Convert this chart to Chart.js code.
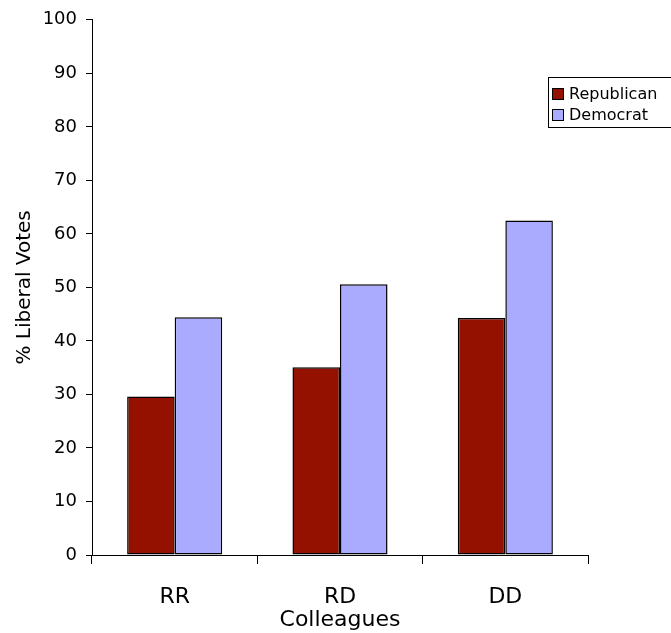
<!DOCTYPE html>
<html>
<head>
<meta charset="utf-8">
<script src="https://cdn.jsdelivr.net/npm/chart.js@4/dist/chart.umd.min.js"></script>
<style>
  body { margin: 0; background: #fff; overflow: hidden; }
</style>
</head>
<body>
<canvas id="myBarChart" width="671" height="633"></canvas>
<script>
var labels = ['RR', 'RD', 'DD'];
var republican = [29.6, 35.1, 44.3];
var democrat = [44.4, 50.6, 62.5];
var yTicks = [0, 10, 20, 30, 40, 50, 60, 70, 80, 90, 100];

// legend box drawn by hand, partly off the right edge like the original
var boxLegend = {
  id: 'boxLegend',
  afterDraw: function (chart) {
    var ctx = chart.ctx;
    ctx.save();
    ctx.fillStyle = '#fff';
    ctx.strokeStyle = '#000';
    ctx.lineWidth = 1;
    ctx.fillRect(548.5, 77.5, 130, 50);
    ctx.strokeRect(548.5, 77.5, 130, 50);
    ctx.font = '16px "DejaVu Sans"';
    ctx.textBaseline = 'middle';
    chart.data.datasets.forEach(function (ds, i) {
      var y = 94 + i * 21;
      ctx.fillStyle = ds.backgroundColor;
      ctx.fillRect(552.5, y - 5.5, 11, 11);
      ctx.strokeRect(552.5, y - 5.5, 11, 11);
      ctx.fillStyle = '#000';
      ctx.fillText(ds.label, 569, y + 1);
    });
    ctx.restore();
  }
};

var ctx = document.getElementById('myBarChart');
var myBarChart = new Chart(ctx, {
  type: 'bar',
  data: {
    labels: labels,
    datasets: [{
      label: 'Republican',
      data: republican,
      backgroundColor: '#941100',
      borderColor: '#000',
      borderWidth: 1.5,
      borderSkipped: false
    }, {
      label: 'Democrat',
      data: democrat,
      backgroundColor: '#aaaaff',
      borderColor: '#000',
      borderWidth: 1.5,
      borderSkipped: false
    }]
  },
  options: {
    responsive: false,
    animation: false,
    devicePixelRatio: 1,
    layout: { padding: { top: 18, right: 83, left: 0, bottom: 0 } },
    plugins: { legend: { display: false }, tooltip: { enabled: false } },
    datasets: { bar: { categoryPercentage: 0.575, barPercentage: 1 } },
    scales: {
      x: {
        grid: { offset: true, drawOnChartArea: false, tickLength: 9, color: '#000' },
        border: { color: '#000', width: 1 },
        ticks: { color: '#000', font: { family: 'DejaVu Sans', size: 22 }, padding: 20 },
        title: { display: true, text: 'Colleagues', color: '#000',
                 font: { family: 'DejaVu Sans', size: 22 }, padding: { top: -10, bottom: 0 } },
        afterFit: function (scale) { scale.height = 78; }
      },
      y: {
        min: 0,
        max: 100,
        afterBuildTicks: function (scale) {
          scale.ticks = yTicks.map(function (v) { return { value: v }; });
        },
        grid: { drawOnChartArea: false, tickLength: 6, color: '#000' },
        border: { color: '#000', width: 1 },
        ticks: { color: '#000', font: { family: 'DejaVu Sans', size: 18 }, padding: 9 },
        title: { display: true, text: '% Liberal Votes', color: '#000',
                 font: { family: 'DejaVu Sans', size: 20 }, padding: { top: 13, bottom: 0 } },
        afterFit: function (scale) { scale.width = 92; }
      }
    }
  },
  plugins: [boxLegend]
});
</script>
</body>
</html>
